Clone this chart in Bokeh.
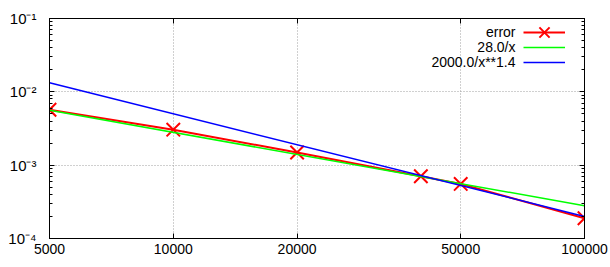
from bokeh.plotting import figure
from bokeh.models import Range1d, FixedTicker, LogAxis, Label, Legend, LegendItem
from bokeh.embed import file_html
from bokeh.resources import INLINE

# ---- data ----
x_err = [5000, 10000, 20000, 40000, 50000, 100000]
err = [0.0057, 0.00305, 0.00149, 0.000705, 0.000555, 0.000189]

x_fit = [5000, 100000]
fit_inv = [0.0056, 0.00028]      # 28.0/x
fit_pow = [0.01326, 0.000200]    # 2000.0/x**1.4

x_ticks = [5000, 10000, 20000, 50000, 100000]
x_tick_labels = ["5000", "10000", "20000", "50000", "100000"]
y_ticks = [1e-4, 1e-3, 1e-2, 1e-1]
y_tick_labels = ["10\u207b\u2074", "10\u207b\u00b3", "10\u207b\u00b2", "10\u207b\u00b9"]
legend_labels = ["error", "28.0/x", "2000.0/x**1.4"]

FONT = "Liberation Sans"

p = figure(width=610, height=267, x_axis_type="log", y_axis_type="log",
           x_range=Range1d(5000, 100000), y_range=Range1d(1e-4, 1e-1),
           output_backend="svg", toolbar_location=None,
           min_border_left=49, min_border_right=26, min_border_top=18, min_border_bottom=29)
p.outline_line_color = "black"
p.outline_line_width = 1
p.background_fill_color = "white"
p.border_fill_color = "white"

# x axis
p.xaxis.ticker = FixedTicker(ticks=x_ticks, minor_ticks=[])
p.xaxis.major_label_overrides = {t: l for t, l in zip(x_ticks, x_tick_labels)}
p.xaxis.major_tick_in = 5
p.xaxis.major_tick_out = 0
p.xaxis.major_label_standoff = 5
p.xaxis.major_label_text_font = FONT
p.xaxis.major_label_text_font_size = "14px"
p.xaxis.major_label_text_color = "black"
p.xaxis.axis_line_color = "black"

# y axis
y_minor = [m * t for t in y_ticks[:-1] for m in range(2, 10)]
p.yaxis.ticker = FixedTicker(ticks=y_ticks, minor_ticks=y_minor)
p.yaxis.major_label_overrides = {t: l for t, l in zip(y_ticks, y_tick_labels)}
p.yaxis.major_tick_in = 5
p.yaxis.major_tick_out = 0
p.yaxis.minor_tick_in = 3
p.yaxis.minor_tick_out = 0
p.yaxis.major_label_standoff = 13
p.yaxis.major_label_text_font = FONT
p.yaxis.major_label_text_font_size = "15px"
p.yaxis.major_label_text_color = "black"
p.yaxis.axis_line_color = "black"

# mirrored axes
top = LogAxis(ticker=FixedTicker(ticks=x_ticks, minor_ticks=[]), major_tick_in=5, major_tick_out=0,
              major_label_text_font_size="1px", major_label_text_alpha=0,
              major_label_standoff=0, axis_line_color="black")
p.add_layout(top, "above")
right = LogAxis(ticker=FixedTicker(ticks=y_ticks, minor_ticks=y_minor),
                major_tick_in=5, major_tick_out=0, minor_tick_in=3, minor_tick_out=0,
                major_label_text_font_size="1px", major_label_text_alpha=0,
                major_label_standoff=0, axis_line_color="black")
p.add_layout(right, "right")

# grid
for g in (p.xgrid, p.ygrid):
    g.grid_line_color = "#a0a0a0"
    g.grid_line_dash = "1 2"
    g.grid_line_width = 1

# series
r_err_line = p.line(x_err, err, line_color="#ff0000", line_width=2)
r_err_pts = p.scatter(x_err, err, marker="x", size=19, line_color="#ff0000", line_width=2)
r_g = p.line(x_fit, fit_inv, line_color="#00ff00", line_width=1.5)
r_b = p.line(x_fit, fit_pow, line_color="#0000ff", line_width=1.5)

common = dict(glyph_width=42, label_width=0, label_standoff=0, spacing=1, padding=0, margin=0,
              border_line_alpha=0, background_fill_alpha=0,
              label_text_font_size="2px", label_text_alpha=0)

legend1 = Legend(items=[LegendItem(label="a", renderers=[r_err_line, r_err_pts])],
                 location=(474, 188), glyph_height=36, label_height=36, **common)
p.add_layout(legend1)
legend2 = Legend(items=[LegendItem(label="b", renderers=[r_g]),
                        LegendItem(label="c", renderers=[r_b])],
                 location=(474, 169), glyph_height=14, label_height=14, **common)
p.add_layout(legend2)

for i, lab in enumerate(legend_labels):
    p.add_layout(Label(x=466, y=206.5 - 15 * i, x_units="screen", y_units="screen", text=lab,
                       text_align="right", text_baseline="middle",
                       text_font=FONT, text_font_size="14px", text_color="black"))

open("out.html", "w").write(file_html(p, INLINE))
